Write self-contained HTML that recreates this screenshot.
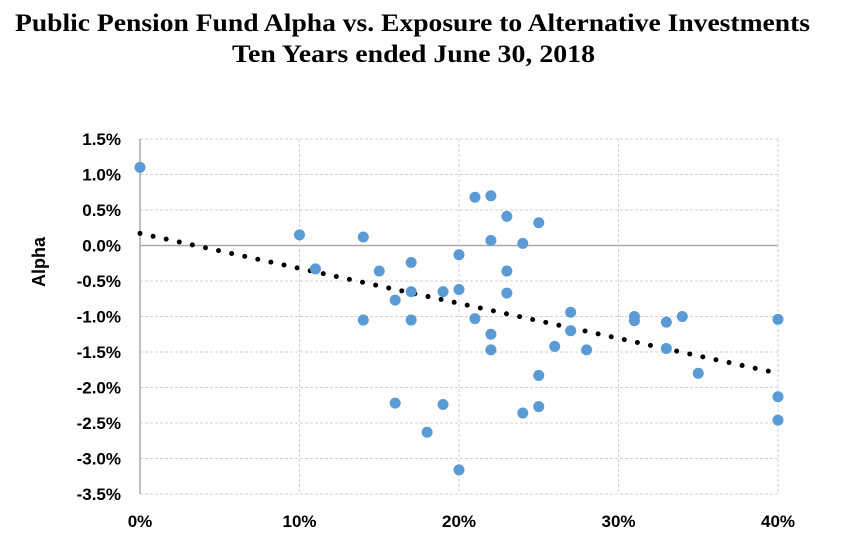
<!DOCTYPE html>
<html><head><meta charset="utf-8"><style>
body{margin:0;background:#fff;width:844px;height:549px;overflow:hidden}
</style></head><body>
<svg width="844" height="549" xmlns="http://www.w3.org/2000/svg">
<text x="15" y="31" textLength="795" lengthAdjust="spacingAndGlyphs" font-family="Liberation Serif, serif" font-weight="bold" font-size="25">Public Pension Fund Alpha vs. Exposure to Alternative Investments</text>
<text x="232" y="62" textLength="363" lengthAdjust="spacingAndGlyphs" font-family="Liberation Serif, serif" font-weight="bold" font-size="25">Ten Years ended June 30, 2018</text>
<text transform="translate(45,262) rotate(-90)" text-anchor="middle" font-family="Liberation Sans, sans-serif" font-weight="bold" font-size="18">Alpha</text>
<g id="grid"></g><g id="axes"></g><g id="trend"></g><g id="pts"></g>
</svg>
<script>
const xTicks=[0,10,20,30,40];
const yTicks=[1.5,1.0,0.5,0.0,-0.5,-1.0,-1.5,-2.0,-2.5,-3.0,-3.5];
const exposure=[0,10,11,14,14,15,16,16,17,17,17,18,19,19,20,20,20,21,21,22,22,22,22,23,23,23,24,24,25,25,25,26,27,27,28,31,31,33,33,34,35,40,40,40];
const alpha=[1.1,0.15,-0.33,0.12,-1.05,-0.36,-0.77,-2.22,-0.24,-0.65,-1.05,-2.63,-0.65,-2.24,-0.13,-0.62,-3.16,0.68,-1.03,0.7,0.07,-1.25,-1.47,0.41,-0.36,-0.67,0.03,-2.36,0.32,-1.83,-2.27,-1.42,-0.94,-1.2,-1.47,-1.0,-1.06,-1.08,-1.45,-1.0,-1.8,-1.04,-2.13,-2.46];
const trendX=[0,40];
const trendY=[0.17,-1.8];
const NS='http://www.w3.org/2000/svg';
const X0=140,X1=778,Y0=139,Y1=494;
const sx=v=>X0+(v-0)/(40-0)*(X1-X0);
const sy=v=>Y0+(1.5-v)/(1.5+3.5)*(Y1-Y0);
function mk(tag,at,parent){const e=document.createElementNS(NS,tag);for(const k in at)e.setAttribute(k,at[k]);document.getElementById(parent).appendChild(e);return e;}
yTicks.forEach(t=>{
  const zero=Math.abs(t)<1e-9;
  const l=mk('line',{x1:X0,x2:X1,y1:sy(t),y2:sy(t),stroke:zero?'#aaa':'#d0d0d0','stroke-width':zero?1.5:1,'stroke-dasharray':zero?'none':'3,2'},'grid');
  
  
  const tx=mk('text',{x:121,y:sy(t)+6,'text-anchor':'end','font-family':'Liberation Sans, sans-serif','font-weight':'bold','font-size':'17'},'axes');
  tx.textContent=t.toFixed(1)+'%';
  
  
});
xTicks.forEach(t=>{
  if(t>0){const l=mk('line',{x1:sx(t),x2:sx(t),y1:Y0,y2:Y1,stroke:'#d0d0d0','stroke-dasharray':'3,2'},'grid');
  
  }
  const tx=mk('text',{x:sx(t),y:527,'text-anchor':'middle','font-family':'Liberation Sans, sans-serif','font-weight':'bold','font-size':'17'},'axes');
  tx.textContent=t+'%';
  
  
});
const ax=mk('line',{x1:X0,x2:X0,y1:Y0,y2:Y1,stroke:'#aaa','stroke-width':1.5},'axes');


const tl=mk('line',{x1:sx(trendX[0]),y1:sy(trendY[0]),x2:sx(trendX[1]),y2:sy(trendY[1]),stroke:'#000','stroke-width':5,'stroke-linecap':'round','stroke-dasharray':'0,13.4'},'trend');


exposure.forEach((v,i)=>{
  const c=mk('circle',{cx:sx(v),cy:sy(alpha[i]),r:5.5,fill:'#5b9bd5'},'pts');
  
  
});
</script>
</body></html>
